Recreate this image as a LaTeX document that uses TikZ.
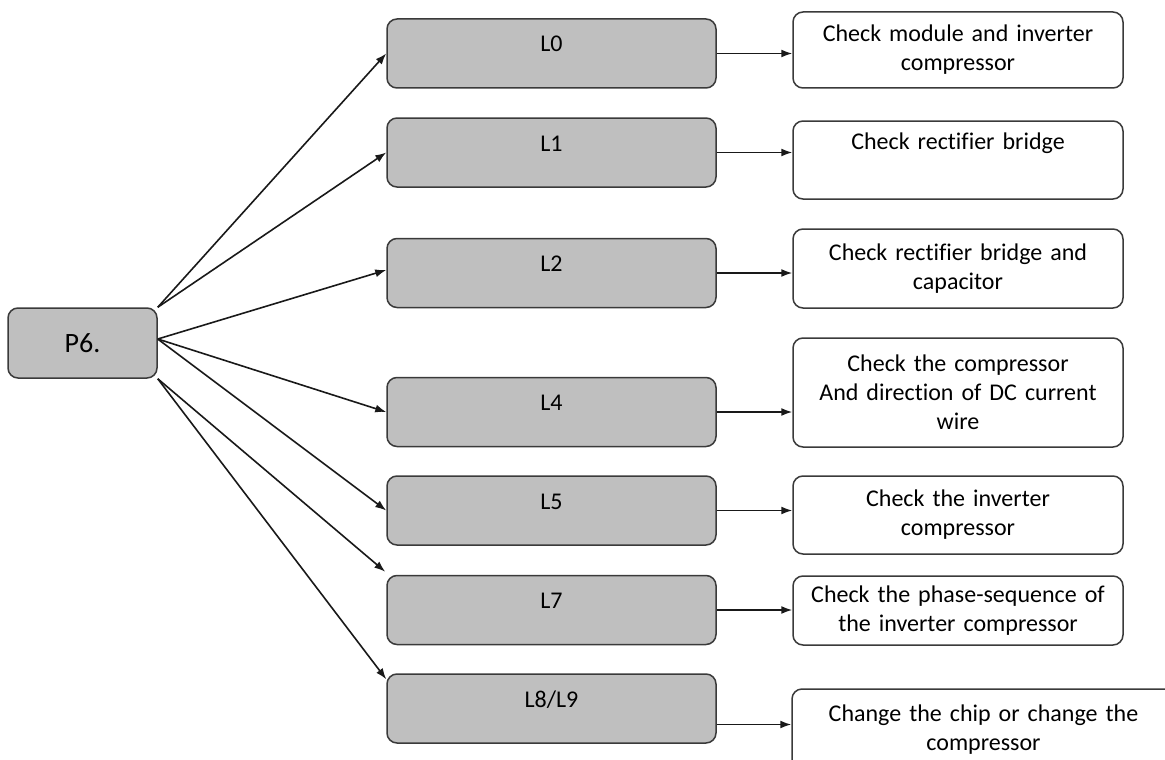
\documentclass[tikz,border=0pt]{standalone}
\usepackage{fontspec}
\setmainfont{Carlito}[Ligatures=NoCommon]
\usetikzlibrary{arrows.meta}
\definecolor{boxgray}{HTML}{BFBFBF}
\definecolor{edgegray}{HTML}{3A3A3A}
\tikzset{
  pbox/.style={draw=edgegray, fill=boxgray, rounded corners=10pt, line width=1.5pt,
    minimum width=149pt, minimum height=70pt, inner sep=0pt,
    font=\fontsize{28}{33}\selectfont},
  lbox/.style={draw=edgegray, fill=boxgray, rounded corners=10pt, line width=1.5pt,
    minimum width=329pt, inner xsep=0pt, inner ysep=0pt, text height=33pt, text depth=36pt,
    font=\fontsize{24}{29}\selectfont},
  rbox/.style={draw=edgegray, fill=white, rounded corners=10pt, line width=1.5pt,
    minimum width=330pt, text width=320pt, align=center, inner sep=0pt,
    font=\fontsize{24}{29}\selectfont},
  arr/.style={draw=black!90, line width=1.6pt, -{Latex[length=11pt,width=8pt]}},
}
\begin{document}
\begin{tikzpicture}[x=1pt,y=-1pt]
\useasboundingbox (0,0) rectangle (1165,760);
\clip (0,0) rectangle (1165,760);

\node[pbox] (P6) at (82.5,343) {P6.};

\node[lbox] (L0) at (551.5,53.5) {L0};
\node[lbox] (L1) at (551.5,152.5) {L1};
\node[lbox] (L2) at (551.5,273) {L2};
\node[lbox] (L4) at (551.5,412) {L4};
\node[lbox] (L5) at (551.5,510.5) {L5};
\node[lbox] (L7) at (551.5,610) {L7};
\node[lbox] (L8) at (551.5,708.5) {L8/L9};

\node[rbox, minimum height=76pt] (R0) at (958,50) {Check module and inverter\\compressor};
\node[rbox, minimum height=78pt] (R1) at (958,160) {Check rectifier bridge\\\strut};
\node[rbox, minimum height=79pt] (R2) at (958,268.5) {Check rectifier bridge and\\capacitor};
\node[rbox, minimum height=109pt] (R4) at (958,392.5) {Check the compressor\\And direction of DC current\\wire};
\node[rbox, minimum height=78pt] (R5) at (958,515) {Check the inverter\\compressor};
\node[rbox, minimum height=69pt] (R7) at (958,610.5) {Check the phase-sequence of\\the inverter compressor};
\node[rbox, minimum width=383pt, text width=370pt, minimum height=81pt] (R8) at (983.5,729.5) {Change the chip or change the\\compressor};

\draw[arr] (P6.north east) -- (L0.west);
\draw[arr] (P6.north east) -- (L1.west);
\draw[arr] ([yshift=4pt]P6.east) -- ([yshift=3pt]L2.west);
\draw[arr] ([yshift=4pt]P6.east) -- (L4.west);
\draw[arr] ([yshift=4pt]P6.east) -- (L5.west);
\draw[arr] (P6.south east) -- ([xshift=-1pt,yshift=3pt]L7.north west);
\draw[arr] (P6.south east) -- ([yshift=-6pt]L8.north west);

\draw[arr] (L0.east) -- (L0.east -| R0.west);
\draw[arr] (L1.east) -- (L1.east -| R1.west);
\draw[arr] (L2.east) -- (L2.east -| R2.west);
\draw[arr] (L4.east) -- (L4.east -| R4.west);
\draw[arr] (L5.east) -- (L5.east -| R5.west);
\draw[arr] (L7.east) -- (L7.east -| R7.west);
\draw[arr] ([yshift=-16pt]L8.east) -- ([yshift=-16pt]L8.east -| R8.west);
\end{tikzpicture}
\end{document}
